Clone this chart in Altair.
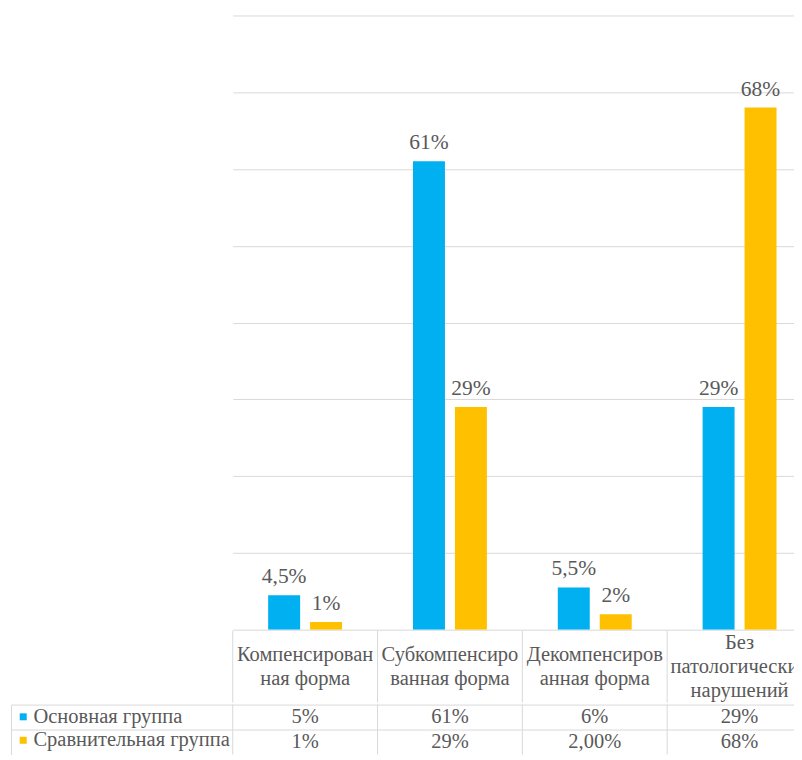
import altair as alt
import pandas as pd

categories = ["Компенсированная форма", "Субкомпенсированная форма",
              "Декомпенсированная форма", "Без патологических нарушений"]
header_lines = [["Компенсирован", "ная форма"], ["Субкомпенсиро", "ванная форма"],
                ["Декомпенсиров", "анная форма"], ["Без", "патологических", "нарушений"]]
series = ["Основная группа", "Сравнительная группа"]
main_values = [4.5, 61, 5.5, 29]
comp_values = [1, 29, 2, 68]
main_bar_labels = ["4,5%", "61%", "5,5%", "29%"]
comp_bar_labels = ["1%", "29%", "2%", "68%"]
main_table = ["5%", "61%", "6%", "29%"]
comp_table = ["1%", "29%", "2,00%", "68%"]
colors = ["#00b0f0", "#ffc000"]

FONT = "Liberation Serif"
FS = 20.5
FS_BAR = 21.5
TXT = "#595959"
GRID = "#d9d9d9"

rows = []
for i, c in enumerate(categories):
    rows.append(dict(category=c, series=series[0], value=main_values[i],
                     label=main_bar_labels[i], table=main_table[i]))
    rows.append(dict(category=c, series=series[1], value=comp_values[i],
                     label=comp_bar_labels[i], table=comp_table[i]))
df = pd.DataFrame(rows)
cats = pd.DataFrame({"category": categories})

hrows = []
for c, lines in zip(categories, header_lines):
    n = len(lines)
    for k, t in enumerate(lines):
        hrows.append(dict(category=c, line=k - (n - 1) / 2, text=t))
hdr = pd.DataFrame(hrows)

PLOT_W = 562      # visible part of the plot (the 4th column is cut at the page edge)
BAND_W = 580      # 4 columns of 145 px
HEAD_H = 72
ROWS_H = 50
xscale = alt.Scale(domain=categories, paddingInner=0, paddingOuter=0, range=[0, BAND_W])

x_bar = alt.X("category:N", scale=xscale, axis=None)
xoff = alt.XOffset("series:N", scale=alt.Scale(domain=series, paddingInner=0.238, paddingOuter=0.845))

bars = alt.Chart(df).mark_bar(clip=True).encode(
    x=x_bar, xOffset=xoff,
    y=alt.Y("value:Q", scale=alt.Scale(domain=[0, 80]),
            axis=alt.Axis(values=list(range(0, 81, 10)), labels=False, ticks=False,
                          domain=False, title=None, grid=True, gridColor=GRID, gridWidth=1)),
    color=alt.Color("series:N", scale=alt.Scale(domain=series, range=colors),
                    legend=alt.Legend(title=None, orient="none", legendX=-220, legendY=692,
                                      symbolType="square", symbolSize=49, symbolStrokeWidth=0,
                                      labelFont=FONT, labelFontSize=FS, labelColor=TXT,
                                      labelOffset=0, rowPadding=2.5, padding=0,
                                      labelLimit=300)),
)
bar_text = alt.Chart(df).mark_text(baseline="alphabetic", dy=-12, font=FONT, fontSize=FS_BAR,
                                   color=TXT, clip=True).encode(
    x=x_bar, xOffset=xoff, y="value:Q", text="label:N")
top = alt.layer(bars, bar_text).properties(width=PLOT_W, height=615)

x_tab = alt.X("category:N", scale=xscale, axis=None)
col_lines = alt.Chart(cats).mark_rule(color=GRID, strokeWidth=1).encode(
    x=alt.X("category:N", scale=xscale, axis=None, bandPosition=0))

header_text = alt.Chart(hdr).mark_text(font=FONT, fontSize=FS, color=TXT, baseline="middle",
                                       clip=True).encode(
    x=x_tab,
    y=alt.Y("line:Q", scale=alt.Scale(domain=[HEAD_H / 48, -HEAD_H / 48]), axis=None),
    text="text:N")
header = alt.layer(col_lines, header_text).properties(width=PLOT_W, height=HEAD_H)

row_scale = alt.Scale(domain=series, paddingInner=0, paddingOuter=0)
y_rows = alt.Y("series:N", scale=row_scale,
               axis=alt.Axis(labels=False, ticks=True, tickSize=222, tickColor=GRID,
                             tickOffset=-ROWS_H / 4, domain=False, title=None, grid=True,
                             gridColor=GRID))
values_text = alt.Chart(df).mark_text(font=FONT, fontSize=FS, color=TXT, clip=True).encode(
    x=x_tab, y=y_rows, text="table:N")
y_border = alt.Y("series:N", scale=row_scale,
                 axis=alt.Axis(labels=False, ticks=False, domain=True, domainColor=GRID,
                               title=None, grid=False, offset=222, orient="left"))
border_layer = alt.Chart(df).mark_text(opacity=0, clip=True).encode(
    x=x_tab, y=y_border, text="table:N")
values = alt.layer(col_lines, values_text, border_layer).resolve_axis(
    y="independent").properties(width=PLOT_W, height=ROWS_H)

chart = alt.vconcat(top, header, values, spacing=0).properties(
    padding={"left": 2, "top": 7, "right": 0, "bottom": 0},
    background="white",
).configure_view(strokeWidth=0)

chart.save("out.html", embed_options={"renderer": "svg", "actions": False})
